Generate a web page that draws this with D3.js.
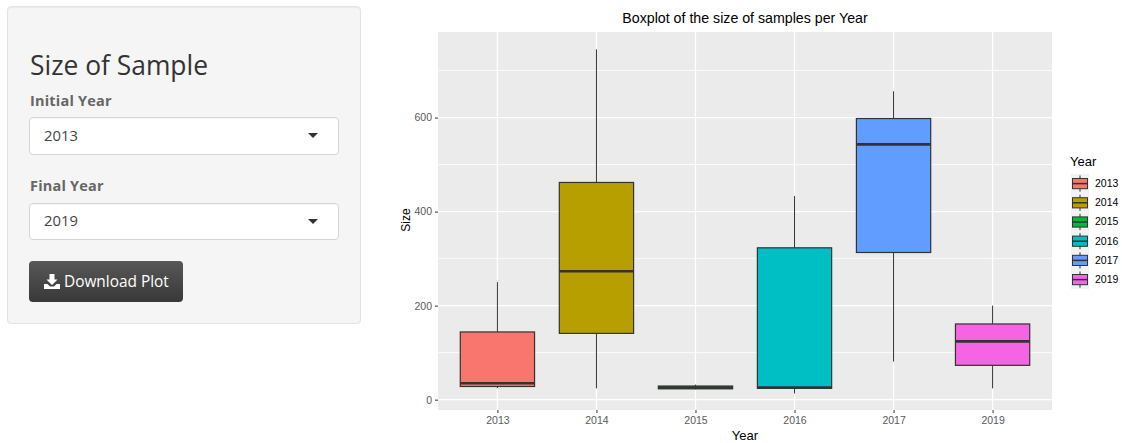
<!DOCTYPE html>
<html>
<head>
<meta charset="utf-8">
<script src="https://d3js.org/d3.v7.min.js"></script>
<style>
html, body { margin: 0; padding: 0; background: #fff; width: 1122px; height: 443px; overflow: hidden; }
body { font-family: "Open Sans", sans-serif; color: #333; position: relative; }
.well { position: absolute; left: 7px; top: 6px; width: 352px; height: 316px; background: #f5f5f5; border: 1px solid #e3e3e3; border-radius: 4px; box-shadow: inset 0 1px 1px rgba(0,0,0,.05); }
.side-title { position: absolute; left: 30px; top: 46px; font-size: 26.4px; line-height: 38px; color: #333; }
.side-label { position: absolute; left: 30px; font-size: 14.5px; line-height: 20px; font-weight: 700; color: #666; letter-spacing: 0.2px; }
.select { position: absolute; left: 29px; width: 308px; background: #fff; border: 1px solid #d5d5d5; border-radius: 4px; box-shadow: inset 0 1px 1px rgba(0,0,0,.04); }
.select span { position: absolute; left: 14px; top: 50%; transform: translateY(-50%); margin-top: -1.5px; font-size: 14.8px; color: #444; }
.select i { position: absolute; left: 278px; top: 50%; margin-top: -3px; width: 0; height: 0; border-left: 5px solid transparent; border-right: 5px solid transparent; border-top: 5px solid #333; }
.btn { position: absolute; left: 29px; top: 261px; width: 154px; height: 41px; border-radius: 4px; background: linear-gradient(#585858, #383838); color: #fff; font-size: 15.4px; }
.btn svg { position: absolute; left: 15px; top: 13px; }
.btn span { position: absolute; left: 35px; top: 10px; line-height: 21px; white-space: nowrap; }
#chart { position: absolute; left: 0; top: 0; }
#chart text { font-family: "Liberation Sans", Arial, sans-serif; }
</style>
</head>
<body>
<div class="well"></div>
<div class="side-title">Size of Sample</div>
<div class="side-label" style="top:91px">Initial Year</div>
<div class="select" style="top:117px;height:36px"><span>2013</span><i></i></div>
<div class="side-label" style="top:176px">Final Year</div>
<div class="select" style="top:203px;height:35px"><span>2019</span><i></i></div>
<div class="btn">
  <svg width="16" height="15" viewBox="0 0 16 15"><path d="M5.5 0h5v5.5h3L8 11 2.500 5.500h3zM0 10h3.500L6 12.500h4L12.500 10H16v5H0z" fill="#fff"/></svg>
  <span>Download Plot</span>
</div>
<svg id="chart" width="1122" height="443"></svg>
<script>
var years = ["2013", "2014", "2015", "2016", "2017", "2019"];
var whiskerLow = [25, 24, 22, 13, 81, 24];
var boxLow = [28, 141, 23, 24, 313, 73];
var medians = [35, 273, 26, 26, 543, 124];
var boxHigh = [144, 462, 29, 323, 598, 161];
var whiskerHigh = [250, 745, 32, 433, 656, 200];
var colors = ["#F8766D", "#B79F00", "#00BA38", "#00BFC4", "#619CFF", "#F564E3"];
var yTicks = [0, 200, 400, 600];
var yMinorTicks = [100, 300, 500, 700];

var left = 438, right = 1052, top_ = 32, bottom = 410;
var svg = d3.select("#chart");

var xScale = d3.scalePoint()
               .domain(years)
               .range([left, right])
               .padding(0.6);

var yScale = d3.scaleLinear()
               .domain([-22, 782])
               .range([bottom, top_]);

var boxWidth = xScale.step() * 0.75;

// panel and grid
svg.append("rect")
   .attr("x", left)
   .attr("y", top_)
   .attr("width", right - left)
   .attr("height", bottom - top_)
   .attr("fill", "#ebebeb");

svg.selectAll(".minor")
   .data(yMinorTicks)
   .enter().append("line")
   .attr("x1", left).attr("x2", right)
   .attr("y1", function(d) { return yScale(d); })
   .attr("y2", function(d) { return yScale(d); })
   .attr("stroke", "#fff")
   .attr("stroke-width", 0.8);

svg.selectAll(".major")
   .data(yTicks)
   .enter().append("line")
   .attr("x1", left).attr("x2", right)
   .attr("y1", function(d) { return yScale(d); })
   .attr("y2", function(d) { return yScale(d); })
   .attr("stroke", "#fff")
   .attr("stroke-width", 1.3);

svg.selectAll(".vgrid")
   .data(years)
   .enter().append("line")
   .attr("x1", function(d) { return xScale(d); })
   .attr("x2", function(d) { return xScale(d); })
   .attr("y1", top_).attr("y2", bottom)
   .attr("stroke", "#fff")
   .attr("stroke-width", 1.3);

// boxes
var boxes = svg.selectAll(".box")
               .data(years)
               .enter().append("g")
               .attr("class", "box");

boxes.append("line")
     .attr("x1", function(d) { return xScale(d); })
     .attr("x2", function(d) { return xScale(d); })
     .attr("y1", function(d, i) { return yScale(whiskerHigh[i]); })
     .attr("y2", function(d, i) { return yScale(boxHigh[i]); })
     .attr("stroke", "#333");

boxes.append("line")
     .attr("x1", function(d) { return xScale(d); })
     .attr("x2", function(d) { return xScale(d); })
     .attr("y1", function(d, i) { return yScale(boxLow[i]); })
     .attr("y2", function(d, i) { return yScale(whiskerLow[i]); })
     .attr("stroke", "#333");

boxes.append("rect")
     .attr("x", function(d) { return xScale(d) - boxWidth / 2; })
     .attr("y", function(d, i) { return yScale(boxHigh[i]); })
     .attr("width", boxWidth)
     .attr("height", function(d, i) { return yScale(boxLow[i]) - yScale(boxHigh[i]); })
     .attr("fill", function(d, i) { return colors[i]; })
     .attr("stroke", "#333")
     .attr("stroke-width", 1.2);

boxes.append("line")
     .attr("x1", function(d) { return xScale(d) - boxWidth / 2; })
     .attr("x2", function(d) { return xScale(d) + boxWidth / 2; })
     .attr("y1", function(d, i) { return yScale(medians[i]); })
     .attr("y2", function(d, i) { return yScale(medians[i]); })
     .attr("stroke", "#333")
     .attr("stroke-width", 2.6);

// axes
var xAxis = d3.axisBottom().scale(xScale).tickSize(3).tickPadding(4);
var yAxis = d3.axisLeft().scale(yScale).tickValues(yTicks).tickSize(3).tickPadding(3);

var gx = svg.append("g")
            .attr("class", "xAxis")
            .attr("transform", `translate(0,${bottom})`)
            .call(xAxis);
var gy = svg.append("g")
            .attr("class", "yAxis")
            .attr("transform", `translate(${left},0)`)
            .call(yAxis);

gx.select(".domain").remove();
gy.select(".domain").remove();
svg.selectAll(".tick line").attr("stroke", "#333");
svg.selectAll(".tick text")
   .attr("fill", "#5a5a5a")
   .style("font-size", "10.5px");

svg.append("text")
   .attr("x", (left + right) / 2)
   .attr("y", 23)
   .attr("text-anchor", "middle")
   .style("font-size", "14.2px")
   .attr("fill", "#000")
   .text("Boxplot of the size of samples per Year");

svg.append("text")
   .attr("x", (left + right) / 2)
   .attr("y", 440)
   .attr("text-anchor", "middle")
   .style("font-size", "13px")
   .attr("fill", "#000")
   .text("Year");

svg.append("text")
   .attr("transform", "translate(410,220) rotate(-90)")
   .attr("text-anchor", "middle")
   .style("font-size", "12px")
   .attr("fill", "#000")
   .text("Size");

// legend
var legendX = 1071, legendY = 174, keySize = 19.2;

svg.append("text")
   .attr("x", legendX - 1)
   .attr("y", 166)
   .style("font-size", "13px")
   .attr("fill", "#000")
   .text("Year");

var keys = svg.selectAll(".key")
              .data(years)
              .enter().append("g")
              .attr("class", "key")
              .attr("transform", function(d, i) { return `translate(${legendX},${legendY + i * keySize})`; });

keys.append("rect")
    .attr("width", 18).attr("height", keySize)
    .attr("fill", "#f2f2f2");
keys.append("line")
    .attr("x1", 9).attr("x2", 9)
    .attr("y1", 1.500).attr("y2", keySize - 1.500)
    .attr("stroke", "#333");
keys.append("rect")
    .attr("x", 1.500).attr("y", 4.500)
    .attr("width", 15).attr("height", keySize - 9)
    .attr("fill", function(d, i) { return colors[i]; })
    .attr("stroke", "#333");
keys.append("line")
    .attr("x1", 1.500).attr("x2", 16.500)
    .attr("y1", keySize / 2).attr("y2", keySize / 2)
    .attr("stroke", "#333")
    .attr("stroke-width", 1.500);
keys.append("text")
    .attr("x", 24)
    .attr("y", keySize / 2 + 3.500)
    .style("font-size", "10.5px")
    .attr("fill", "#000")
    .text(function(d) { return d; });
</script>
</body>
</html>
